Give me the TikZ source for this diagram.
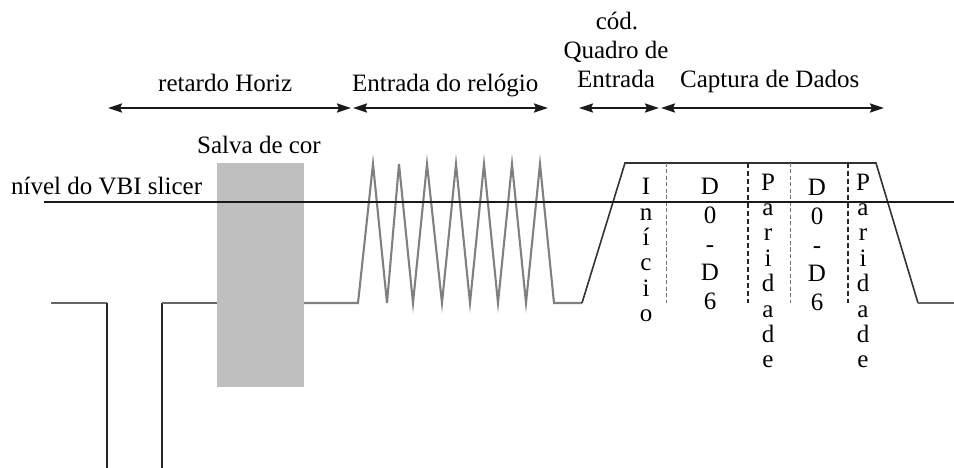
\documentclass[tikz,border=0pt]{standalone}
\usepackage{fontspec}
\setmainfont{Liberation Serif}
\usetikzlibrary{arrows.meta}
\begin{document}
\begin{tikzpicture}[x=1pt,y=-1pt,
  lbl/.style={inner sep=0pt, font=\fontsize{25}{28}\selectfont},
  tip/.tip={Stealth[length=14pt,width=9pt,inset=2pt]},
  dimarrow/.style={line width=1.9pt, draw=black!90, {tip}-{tip}},
  wave/.style={line width=2.1pt, draw=black!50, line join=miter},
  flat/.style={line width=1.8pt, draw=black!60},
  pulse/.style={line width=1.6pt, draw=black!80},
  vert/.style={line width=1.6pt, draw=black!85},
  thindash/.style={line width=0.8pt, draw=black!55, dash pattern=on 4pt off 2.5pt},
  thickdash/.style={line width=1.8pt, draw=black!85, dash pattern=on 5pt off 3pt},
  slicer/.style={line width=2pt, draw=black!90}
]
\useasboundingbox (0,0) rectangle (954,468);

% colour burst box
\fill[black!25] (217,163) rectangle (304,387);

% sync pulse
\draw[flat] (51,303) -- (107,303);
\draw[vert] (107,303) -- (107,468);
\draw[vert] (162,468) -- (162,303);
\draw[flat] (162,303) -- (217,303);

% clock run-in
\draw[wave] (304,303) -- (358,303) -- (373,164) -- (387,303) -- (399,164) -- (413,303)
  -- (427,164) -- (442,303) -- (456,164) -- (470,303) -- (484,164) -- (498,303)
  -- (512,164) -- (526,303) -- (540,164) -- (554,303) -- (582,303);

% data pulse
\draw[pulse] (582,303) -- (625,163) -- (876,163) -- (918,303);
\draw[flat] (918,303) -- (954,303);

% dividers
\draw[thindash] (666,163) -- (666,303);
\draw[thickdash] (748,163) -- (748,303);
\draw[thindash] (790,163) -- (790,303);
\draw[thickdash] (848,163) -- (848,303);

% slicer level
\coordinate (sl0) at (44,202);
\coordinate (sl1) at (954,202);
\draw[slicer] (sl0) -- (sl1);

% dimension arrows
\coordinate (a0) at (108,108);
\coordinate (a1) at (351,108);
\coordinate (b0) at (353,108);
\coordinate (b1) at (548,108);
\coordinate (c0) at (579,108);
\coordinate (c1) at (659,108);
\coordinate (d0) at (661,108);
\coordinate (d1) at (884,108);
\draw[dimarrow] (a0) -- (a1);
\draw[dimarrow] (b0) -- (b1);
\draw[dimarrow] (c0) -- (c1);
\draw[dimarrow] (d0) -- (d1);

% labels
\node[lbl,anchor=base west] (ret) at (158,92) {retardo Horiz};
\node[lbl,anchor=base west] (ent) at (352,92) {Entrada do relógio};
\node[lbl,anchor=base] (cod) at (617,30) {cód.};
\node[lbl,anchor=base] (qua) at (616,59) {Quadro de};
\node[lbl,anchor=base] (qen) at (616,88) {Entrada};
\node[lbl,anchor=base west] (cap) at (680,88) {Captura de Dados};
\node[lbl,anchor=base west] (salva) at (197,154) {Salva de cor};
\node[lbl,anchor=base west] (vbi) at (11,195) {nível do VBI slicer};

% vertical column texts
\foreach \c [count=\i from 0] in {I,n,í,c,i,o}
  \node[lbl,anchor=base] (ini\i) at (646,{195+25.3*\i}) {\c};
\foreach \c [count=\i from 0] in {D,0,-,D,6}
  \node[lbl,anchor=base] (da\i) at (710,{195+28.5*\i}) {\c};
\foreach \c [count=\i from 0] in {P,a,r,i,d,a,d,e}
  \node[lbl,anchor=base] (pa\i) at (768,{190+25.4*\i}) {\c};
\foreach \c [count=\i from 0] in {D,0,-,D,6}
  \node[lbl,anchor=base] (db\i) at (817,{196+28.5*\i}) {\c};
\foreach \c [count=\i from 0] in {P,a,r,i,d,a,d,e}
  \node[lbl,anchor=base] (pb\i) at (863,{190+25.4*\i}) {\c};
\end{tikzpicture}
\end{document}
